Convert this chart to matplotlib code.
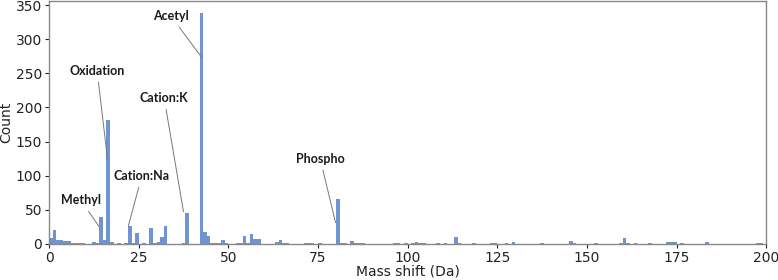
import numpy as np
import matplotlib.pyplot as plt

# histogram of mass shifts, 1 Da bins from 0 to 200
bin_edges = np.arange(0, 200)
counts = [
    8, 20, 6, 6, 4, 4, 2, 2, 2, 1,
    0, 0, 3, 1, 40, 5, 181, 3, 0, 2,
    0, 1, 26, 1, 16, 0, 1, 0, 24, 1,
    3, 10, 26, 0, 0, 0, 0, 1, 46, 0,
    0, 0, 339, 17, 12, 2, 1, 1, 6, 1,
    0, 0, 1, 1, 12, 1, 14, 7, 7, 0,
    0, 0, 0, 3, 5, 1, 1, 0, 0, 0,
    0, 1, 2, 2, 0, 2, 0, 0, 0, 0,
    66, 1, 1, 0, 4, 2, 2, 2, 0, 0,
    0, 0, 0, 0, 0, 0, 1, 2, 0, 1,
    0, 1, 3, 2, 1, 0, 0, 0, 1, 0,
    1, 0, 0, 10, 2, 0, 0, 0, 1, 0,
    0, 0, 0, 2, 2, 0, 0, 2, 0, 3,
    0, 0, 0, 0, 0, 0, 0, 1, 0, 0,
    0, 0, 0, 0, 0, 4, 2, 0, 0, 0,
    0, 0, 1, 0, 0, 0, 0, 0, 0, 2,
    9, 2, 0, 2, 0, 0, 0, 2, 0, 0,
    0, 0, 3, 3, 3, 0, 1, 0, 0, 0,
    0, 0, 0, 3, 0, 0, 0, 0, 0, 0,
    0, 0, 0, 0, 0, 0, 0, 2, 2, 0,
]

# annotations: label, arrow tip (x, y), text centre (x, y)
labels = ["Acetyl", "Oxidation", "Cation:K", "Cation:Na", "Methyl", "Phospho"]
tips = [(42.5, 274), (16.3, 125), (37.5, 47), (22.1, 26), (14.0, 25), (79.9, 31)]
text_pos = [(34.0, 334), (13.4, 254), (32.1, 214), (25.9, 100), (8.9, 64), (75.6, 125)]

fig = plt.figure(figsize=(7.78, 2.8), dpi=100)
ax = fig.add_axes([0.063, 0.129, 0.922, 0.867])

ax.bar(bin_edges, counts, width=1, align='edge', color='#7094d0', linewidth=0)

for lab, tip, pos in zip(labels, tips, text_pos):
    ax.annotate(
        lab, xy=tip, xytext=pos,
        ha='center', va='center',
        fontsize=9, fontweight='bold', family=['Lato', 'DejaVu Sans'],
        color='#1a1a1a',
        arrowprops=dict(arrowstyle='-', color='#777777', lw=0.7,
                        shrinkA=2, shrinkB=0)
    )

ax.set_xlim(0, 200)
ax.set_xticks(np.arange(0, 201, 25))
ax.set_yticks(np.arange(0, 351, 50))
ax.set_xlabel('Mass shift (Da)', fontsize=10, color='#222222', labelpad=0)
ax.set_ylabel('Count', fontsize=10, color='#222222', labelpad=2)
ax.tick_params(labelsize=10, colors='#222222', length=3, pad=2)
for s in ax.spines.values():
    s.set_color('#888888')
    s.set_linewidth(1.0)

fig.savefig('out.png', dpi=100)
